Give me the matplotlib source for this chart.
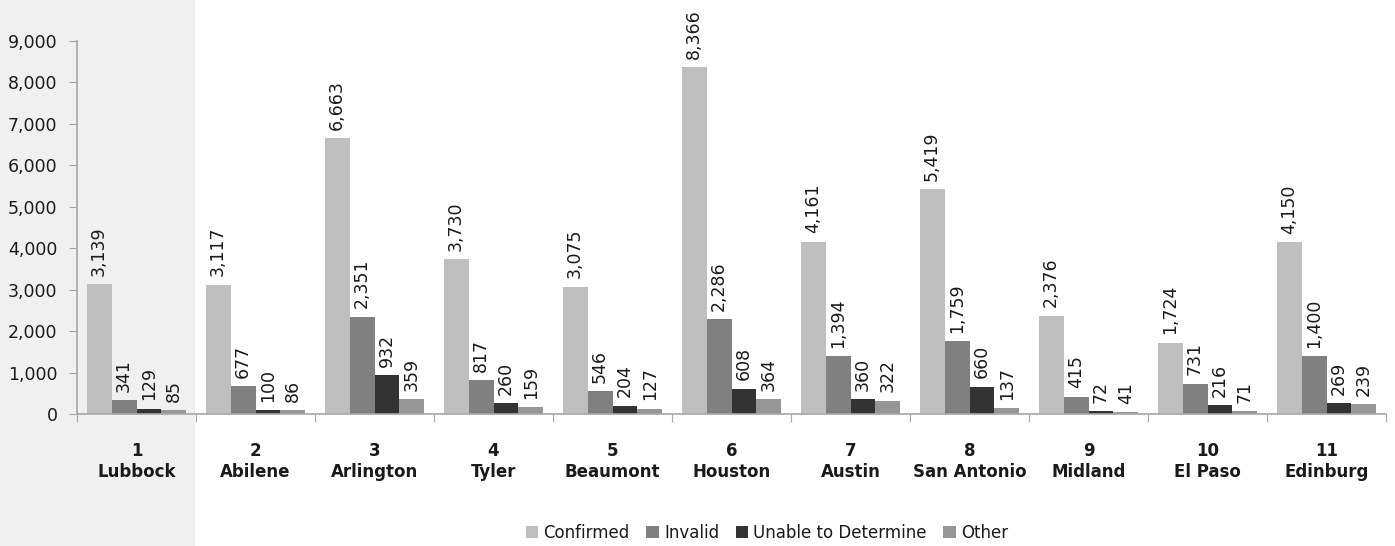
import matplotlib
matplotlib.use("Agg")
import matplotlib.pyplot as plt
import numpy as np
from matplotlib.patches import Rectangle

regions = ["1\nLubbock", "2\nAbilene", "3\nArlington", "4\nTyler", "5\nBeaumont",
           "6\nHouston", "7\nAustin", "8\nSan Antonio", "9\nMidland", "10\nEl Paso",
           "11\nEdinburg"]
series_names = ["Confirmed", "Invalid", "Unable to Determine", "Other"]
confirmed = [3139, 3117, 6663, 3730, 3075, 8366, 4161, 5419, 2376, 1724, 4150]
invalid = [341, 677, 2351, 817, 546, 2286, 1394, 1759, 415, 731, 1400]
unable = [129, 100, 932, 260, 204, 608, 360, 660, 72, 216, 269]
other = [85, 86, 359, 159, 127, 364, 322, 137, 41, 71, 239]
colors = ["#BFBFBF", "#808080", "#333333", "#969696"]
yticks = [0, 1000, 2000, 3000, 4000, 5000, 6000, 7000, 8000, 9000]

plt.rcParams['font.family'] = ['DejaVu Sans']
fig = plt.figure(figsize=(13.95, 5.46), dpi=100)
fig.patches.append(Rectangle((0, 0), 195 / 1395, 1, transform=fig.transFigure,
                             facecolor="#F0F0F0", edgecolor="none", zorder=-5))
ax = fig.add_axes([77 / 1395, 132 / 546, (1386 - 77) / 1395, (505 - 132) / 546])
ax.set_zorder(1)
ax.patch.set_visible(False)

x = np.arange(len(regions))
w = 0.21
all_series = [confirmed, invalid, unable, other]
for i, (vals, name, c) in enumerate(zip(all_series, series_names, colors)):
    pos = x + (i - 1.5) * w
    ax.bar(pos, vals, width=w, color=c, label=name, zorder=2)
    for p, v in zip(pos, vals):
        ax.annotate(f"{v:,}", (p, v), xytext=(0, 6), textcoords="offset points",
                    rotation=90, ha="center", va="bottom", fontsize=12.5,
                    color="#1a1a1a")

ax.set_xlim(-0.5, len(regions) - 0.5)
ax.set_ylim(0, 9000)
ax.set_yticks(yticks)
ax.set_yticklabels([f"{t:,}" for t in yticks], fontsize=12.5, color="#1a1a1a")
ax.set_xticks(np.arange(-0.5, len(regions), 1.0))
ax.set_xticklabels([])
ax.set_xticks(x, minor=True)
ax.set_xticklabels(regions, minor=True, fontsize=12, fontweight="bold", color="#1a1a1a")
ax.tick_params(axis="x", which="major", length=6, color="#A6A6A6", direction="out")
ax.tick_params(axis="x", which="minor", length=0, pad=20)
ax.tick_params(axis="y", length=6, color="#A6A6A6", pad=8)
for s in ["top", "right"]:
    ax.spines[s].set_visible(False)
for s in ["left", "bottom"]:
    ax.spines[s].set_color("#A6A6A6")
    ax.spines[s].set_linewidth(1.2)

fig.legend(loc="center", bbox_to_anchor=(767 / 1395, 13 / 546), ncol=4, frameon=False,
           fontsize=12, handlelength=0.75, handleheight=0.75, handletextpad=0.3,
           columnspacing=1.0, labelcolor="#1a1a1a")

fig.savefig("out.png", dpi=100)
